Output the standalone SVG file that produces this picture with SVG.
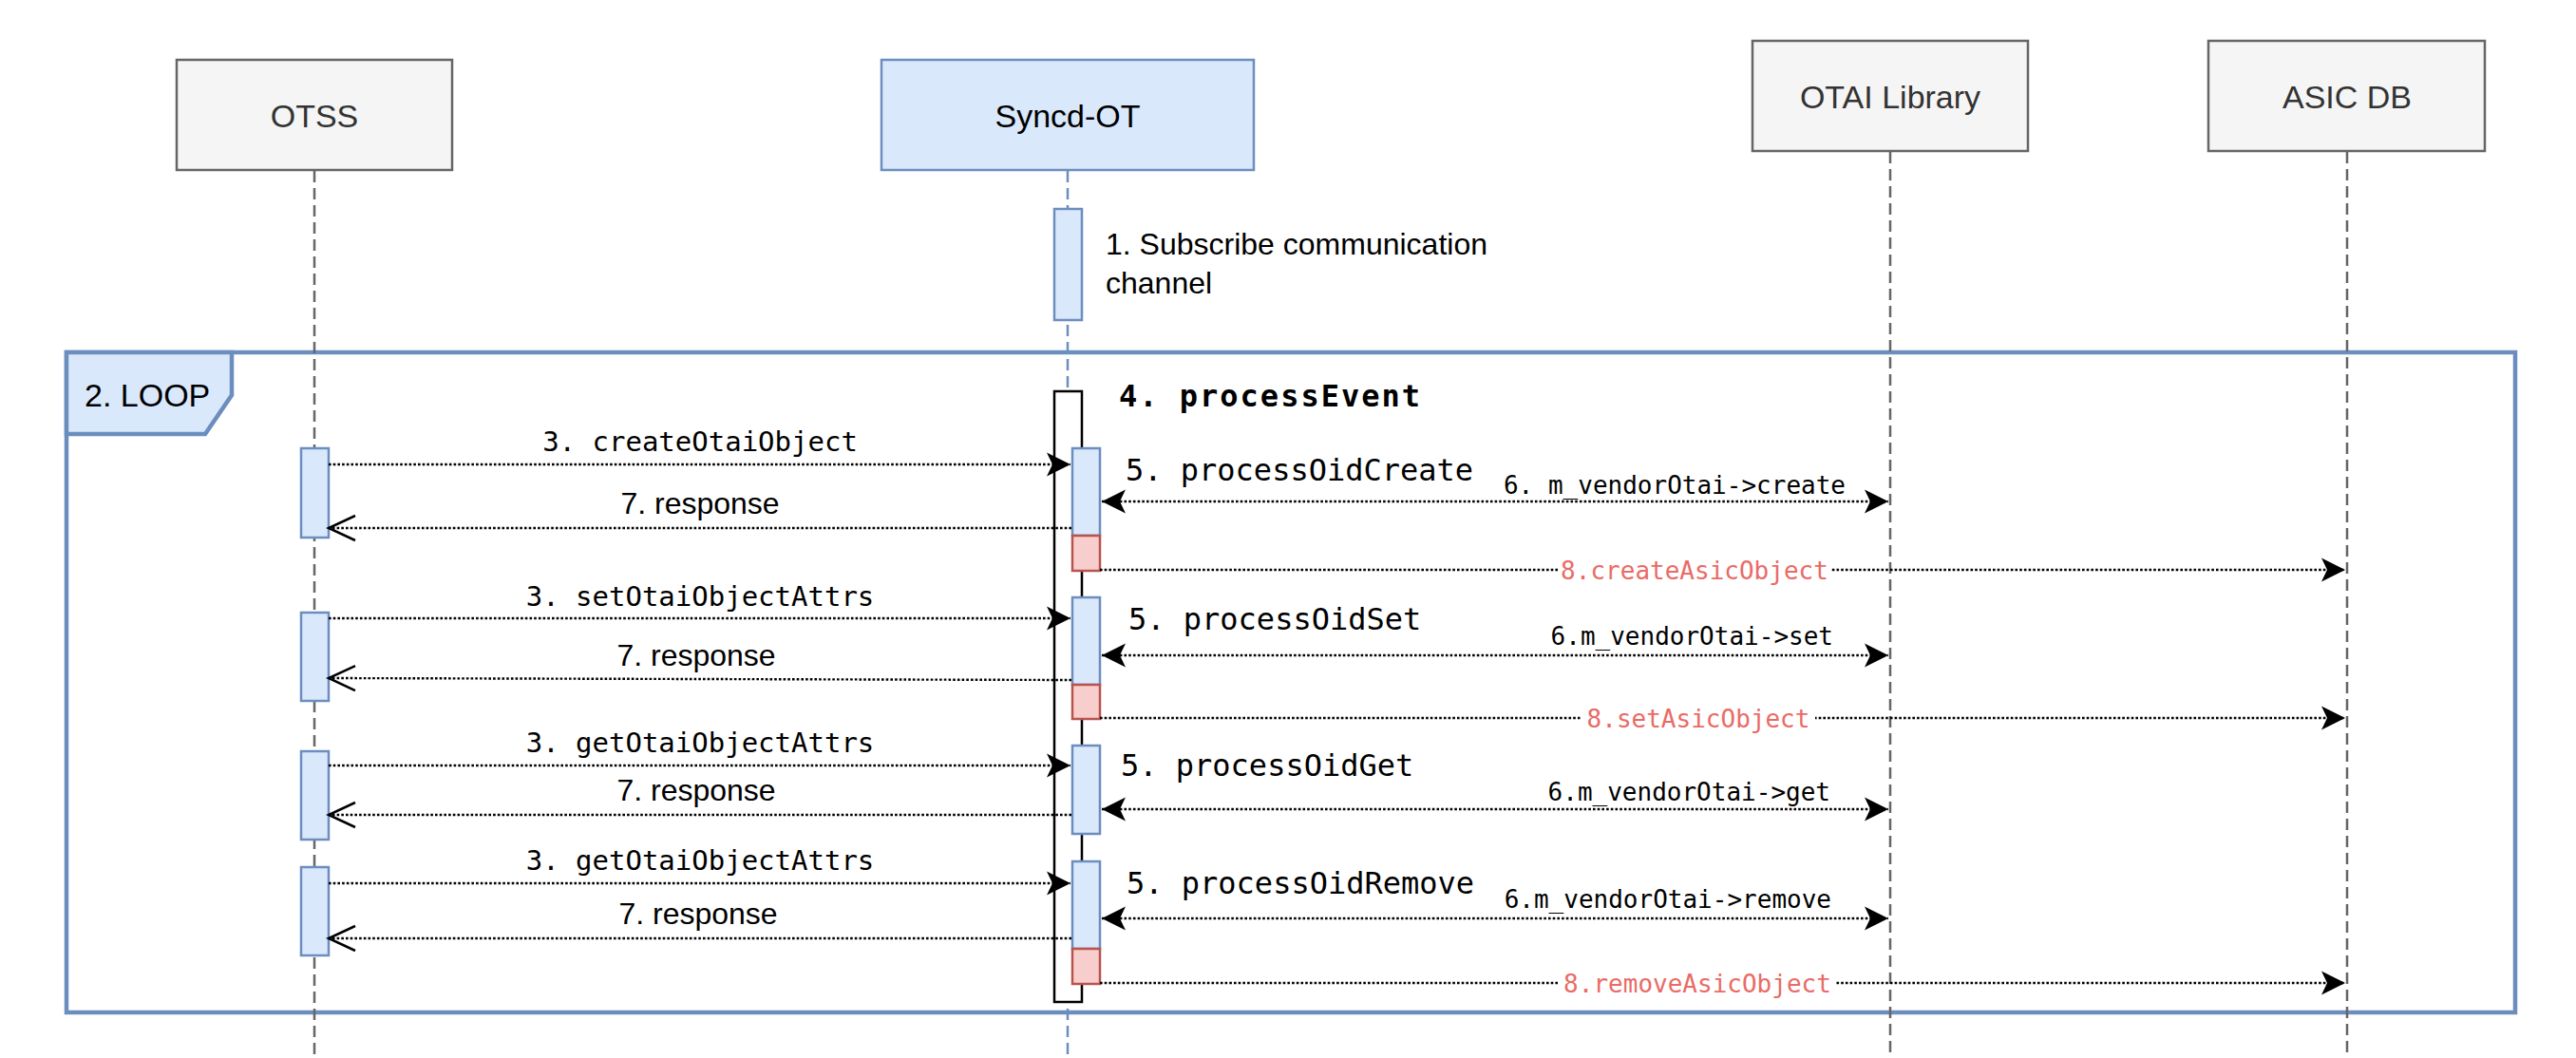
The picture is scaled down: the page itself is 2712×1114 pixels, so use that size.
<svg xmlns="http://www.w3.org/2000/svg" width="2712" height="1114" viewBox="0 0 2712 1114">
<style>
.sans{font-family:"Liberation Sans",Arial,Helvetica,sans-serif}
.mono{font-family:"DejaVu Sans Mono","Liberation Mono",monospace}
.gbox{fill:#f5f5f5;stroke:#666666;stroke-width:2.5}
.bbox{fill:#dae8fc;stroke:#6c8ebf;stroke-width:2.5}
.act{fill:#dae8fc;stroke:#6c8ebf;stroke-width:2.5}
.ract{fill:#f8cecc;stroke:#b85450;stroke-width:2.5}
.life{stroke:#666666;stroke-width:2.5;stroke-dasharray:12 6;fill:none}
.lifeb{stroke:#6c8ebf;stroke-width:2.5;stroke-dasharray:12 6;fill:none}
.msg{stroke:#000;stroke-width:2.4;stroke-dasharray:2.6 2.1;fill:none}
.lbl3{font-size:29px;fill:#000;text-anchor:middle}
.lbl7{font-size:32px;fill:#000;text-anchor:middle}
.lbl5{font-size:32px;fill:#000}
.lbl6{font-size:26px;fill:#000;text-anchor:end}
.lbl8{font-size:26px;fill:#EA6B66;text-anchor:middle}
</style>
<defs>
<marker id="fillArrow" markerUnits="userSpaceOnUse" viewBox="-28 -15 30 30" refX="0" refY="0" markerWidth="30" markerHeight="30" orient="auto-start-reverse" overflow="visible">
<path d="M0,0 L-25,-12.5 L-19,0 L-25,12.5 Z" fill="#000"/>
</marker>
<marker id="openArrow" markerUnits="userSpaceOnUse" viewBox="-30 -15 32 30" refX="0" refY="0" markerWidth="32" markerHeight="30" orient="auto" overflow="visible">
<path d="M-28,-13 L0,0 L-28,13" fill="none" stroke="#000" stroke-width="2.5"/>
</marker>
</defs>
<rect width="2712" height="1114" fill="#ffffff"/>

<g id="loop">
<rect x="70" y="371" width="2578" height="695" fill="none" stroke="#6c8ebf" stroke-width="4.5"/>
<polygon points="70,371 244,371 244,416 216,457 70,457" fill="#dae8fc" stroke="#6c8ebf" stroke-width="4.5"/>
<text class="sans" x="89" y="428" font-size="34" fill="#000">2. LOOP</text>
</g>

<g id="lifelines">
<line class="life" x1="331" y1="180" x2="331" y2="1114"/>
<line class="lifeb" x1="1124" y1="180" x2="1124" y2="1114"/>
<line class="life" x1="1990" y1="160" x2="1990" y2="1114"/>
<line class="life" x1="2471" y1="160" x2="2471" y2="1114"/>
</g>

<g id="otss">
<rect class="gbox" x="186" y="63" width="290" height="116"/>
<text class="sans" x="331" y="134" font-size="34" fill="#333333" text-anchor="middle">OTSS</text>
</g>
<g id="syncd-ot">
<rect class="bbox" x="928" y="63" width="392" height="116"/>
<text class="sans" x="1124" y="134" font-size="34" fill="#000" text-anchor="middle">Syncd-OT</text>
</g>
<g id="otai-library">
<rect class="gbox" x="1845" y="43" width="290" height="116"/>
<text class="sans" x="1990" y="114" font-size="34" fill="#333333" text-anchor="middle">OTAI Library</text>
</g>
<g id="asic-db">
<rect class="gbox" x="2325" y="43" width="291" height="116"/>
<text class="sans" x="2471" y="114" font-size="34" fill="#333333" text-anchor="middle">ASIC DB</text>
</g>

<g id="subscribe">
<rect class="act" x="1110" y="220" width="29" height="117"/>
<text class="sans" x="1164" y="268" font-size="32" fill="#000">1. Subscribe communication</text>
<text class="sans" x="1164" y="309" font-size="32" fill="#000">channel</text>
</g>

<g id="otss-activations">
<rect class="act" x="317" y="472" width="29" height="94"/>
<rect class="act" x="317" y="645" width="29" height="93"/>
<rect class="act" x="317" y="791" width="29" height="93"/>
<rect class="act" x="317" y="913" width="29" height="93"/>
</g>

<g id="process-event">
<rect x="1110" y="412" width="29" height="643" fill="#ffffff" stroke="#000" stroke-width="2.5"/>
<text class="mono" x="1178" y="428" font-size="32" font-weight="bold" letter-spacing="2" fill="#000">4. processEvent</text>
</g>

<g id="process-oid-create">
<rect class="act" x="1129" y="472" width="29" height="92"/>
<rect class="ract" x="1129" y="564" width="29" height="37"/>
<text class="mono lbl5" x="1185" y="506">5. processOidCreate</text>
</g>
<g id="process-oid-set">
<rect class="act" x="1129" y="629" width="29" height="92"/>
<rect class="ract" x="1129" y="721" width="29" height="36"/>
<text class="mono lbl5" x="1188" y="663">5. processOidSet</text>
</g>
<g id="process-oid-get">
<rect class="act" x="1129" y="785" width="29" height="93"/>
<text class="mono lbl5" x="1180" y="817">5. processOidGet</text>
</g>
<g id="process-oid-remove">
<rect class="act" x="1129" y="907" width="29" height="92"/>
<rect class="ract" x="1129" y="999" width="29" height="37"/>
<text class="mono lbl5" x="1186" y="941">5. processOidRemove</text>
</g>

<g id="connectors">
<!-- row 1 create -->
<line class="msg" x1="346" y1="489" x2="1127" y2="489" marker-end="url(#fillArrow)"/>
<text class="mono lbl3" x="737" y="475">3. createOtaiObject</text>
<line class="msg" x1="1128" y1="556" x2="346" y2="556" marker-end="url(#openArrow)"/>
<text class="sans lbl7" x="737" y="541">7. response</text>
<line class="msg" x1="1160" y1="528" x2="1988" y2="528" marker-start="url(#fillArrow)" marker-end="url(#fillArrow)"/>
<text class="mono lbl6" x="1943" y="520">6. m_vendorOtai-&gt;create</text>
<line class="msg" x1="1158" y1="600" x2="2469" y2="600" marker-end="url(#fillArrow)"/>
<rect x="1640" y="586" width="288" height="28" fill="#ffffff"/>
<text class="mono lbl8" x="1784" y="610">8.createAsicObject</text>

<!-- row 2 set -->
<line class="msg" x1="346" y1="651" x2="1127" y2="651" marker-end="url(#fillArrow)"/>
<text class="mono lbl3" x="737" y="638">3. setOtaiObjectAttrs</text>
<line class="msg" x1="1128" y1="716" x2="346" y2="714" marker-end="url(#openArrow)"/>
<text class="sans lbl7" x="733" y="701">7. response</text>
<line class="msg" x1="1160" y1="690" x2="1988" y2="690" marker-start="url(#fillArrow)" marker-end="url(#fillArrow)"/>
<text class="mono lbl6" x="1930" y="679">6.m_vendorOtai-&gt;set</text>
<line class="msg" x1="1158" y1="756" x2="2469" y2="756" marker-end="url(#fillArrow)"/>
<rect x="1665" y="742" width="246" height="28" fill="#ffffff"/>
<text class="mono lbl8" x="1788" y="766">8.setAsicObject</text>

<!-- row 3 get -->
<line class="msg" x1="346" y1="806" x2="1127" y2="806" marker-end="url(#fillArrow)"/>
<text class="mono lbl3" x="737" y="792">3. getOtaiObjectAttrs</text>
<line class="msg" x1="1128" y1="858" x2="346" y2="858" marker-end="url(#openArrow)"/>
<text class="sans lbl7" x="733" y="843">7. response</text>
<line class="msg" x1="1160" y1="852" x2="1988" y2="852" marker-start="url(#fillArrow)" marker-end="url(#fillArrow)"/>
<text class="mono lbl6" x="1927" y="843">6.m_vendorOtai-&gt;get</text>

<!-- row 4 remove -->
<line class="msg" x1="346" y1="930" x2="1127" y2="930" marker-end="url(#fillArrow)"/>
<text class="mono lbl3" x="737" y="916">3. getOtaiObjectAttrs</text>
<line class="msg" x1="1128" y1="988" x2="346" y2="988" marker-end="url(#openArrow)"/>
<text class="sans lbl7" x="735" y="973">7. response</text>
<line class="msg" x1="1160" y1="967" x2="1988" y2="967" marker-start="url(#fillArrow)" marker-end="url(#fillArrow)"/>
<text class="mono lbl6" x="1928" y="956">6.m_vendorOtai-&gt;remove</text>
<line class="msg" x1="1158" y1="1035" x2="2469" y2="1035" marker-end="url(#fillArrow)"/>
<rect x="1642" y="1021" width="290" height="28" fill="#ffffff"/>
<text class="mono lbl8" x="1787" y="1045">8.removeAsicObject</text>
</g>
</svg>
